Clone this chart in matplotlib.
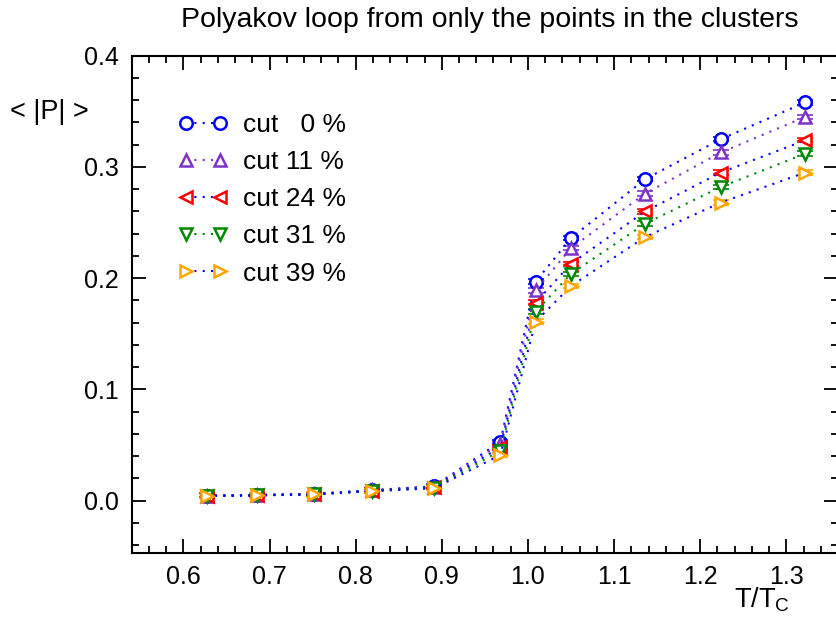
#!/usr/bin/env python3
"""Polyakov loop vs T/Tc for different cluster cuts."""

import matplotlib
matplotlib.use("Agg")
import matplotlib.pyplot as plt
from matplotlib.ticker import MultipleLocator

plt.rcParams["font.family"] = ["Liberation Sans", "DejaVu Sans"]
plt.rcParams["mathtext.fontset"] = "custom"
plt.rcParams["mathtext.rm"] = "Liberation Sans"

T_TC = [0.627, 0.685, 0.752, 0.819, 0.891, 0.968, 1.009, 1.050, 1.136, 1.224, 1.322]

CUT_00 = [0.0045, 0.0052, 0.0062, 0.0095, 0.0130, 0.053, 0.197, 0.236, 0.289, 0.325, 0.358]
CUT_11 = [0.0045, 0.0051, 0.0061, 0.0093, 0.0127, 0.051, 0.189, 0.227, 0.276, 0.313, 0.345]
CUT_24 = [0.0044, 0.0050, 0.0060, 0.0091, 0.0123, 0.048, 0.178, 0.213, 0.260, 0.295, 0.324]
CUT_31 = [0.0043, 0.0049, 0.0058, 0.0088, 0.0118, 0.045, 0.170, 0.204, 0.249, 0.282, 0.312]
CUT_39 = [0.0042, 0.0047, 0.0056, 0.0085, 0.0112, 0.041, 0.161, 0.193, 0.237, 0.268, 0.295]
ERR = 0.002

LABELS = ["cut   0 %", "cut 11 %", "cut 24 %", "cut 31 %", "cut 39 %"]

SERIES = [
    (CUT_00, "o", "#0000ff", "#0000ff"),
    (CUT_11, "^", "#7f33c6", "#7f33c6"),
    (CUT_24, "<", "#ff0000", "#0000ff"),
    (CUT_31, "v", "#008800", "#008800"),
    (CUT_39, ">", "#ffa500", "#0000ff"),
]

W, H = 836, 622
fig = plt.figure(figsize=(W / 100, H / 100), dpi=100)

left, right, top, bottom = 131.7, 838.0, 55.7, 553.0
ax = fig.add_axes([left / W, 1 - bottom / H, (right - left) / W, (bottom - top) / H])

handles = []
for (vals, marker, mcolor, lcolor), label in zip(SERIES, LABELS):
    ax.errorbar(T_TC, vals, yerr=ERR, fmt="none", ecolor=mcolor, elinewidth=1.2,
                capsize=6, capthick=1.2, zorder=2)
    (ln,) = ax.plot(T_TC, vals, linestyle=(0, (1, 3)), color=lcolor, lw=1.5,
                    marker=marker, markersize=9, markeredgewidth=1.8,
                    markeredgecolor=mcolor, markerfacecolor="white", label=label, zorder=3)
    handles.append(ln)

ax.set_xlim(0.54, 1.36)
ax.set_ylim(-0.047, 0.4)
ax.xaxis.set_major_locator(MultipleLocator(0.1))
ax.xaxis.set_minor_locator(MultipleLocator(0.02))
ax.yaxis.set_major_locator(MultipleLocator(0.1))
ax.yaxis.set_minor_locator(MultipleLocator(0.02))
ax.xaxis.set_major_formatter(plt.FuncFormatter(lambda v, p: f"{v:.1f}"))
ax.yaxis.set_major_formatter(plt.FuncFormatter(lambda v, p: f"{v:.1f}"))
ax.tick_params(which="both", direction="in", top=True, right=True, labelsize=18, width=1.3)
ax.tick_params(which="major", length=10, pad=9)
ax.tick_params(which="minor", length=5)
for s in ax.spines.values():
    s.set_linewidth(1.5)

leg = ax.legend(handles=handles, loc="upper left", bbox_to_anchor=(0.032, 0.933),
                frameon=False, numpoints=2, fontsize=19, handlelength=1.9,
                handletextpad=0.57, labelspacing=0.5)

fig.text(490 / W, 1 - 20 / H, "Polyakov loop from only the points in the clusters",
         ha="center", va="center", fontsize=20.5)
fig.text(10 / W, 1 - 112 / H, "< |P| >", ha="left", va="center", fontsize=19.5)
fig.text(790 / W, 1 - 600 / H, r"T/T$_\mathregular{C}$", ha="right", va="center", fontsize=19.5)

fig.savefig("out.png", dpi=100)
